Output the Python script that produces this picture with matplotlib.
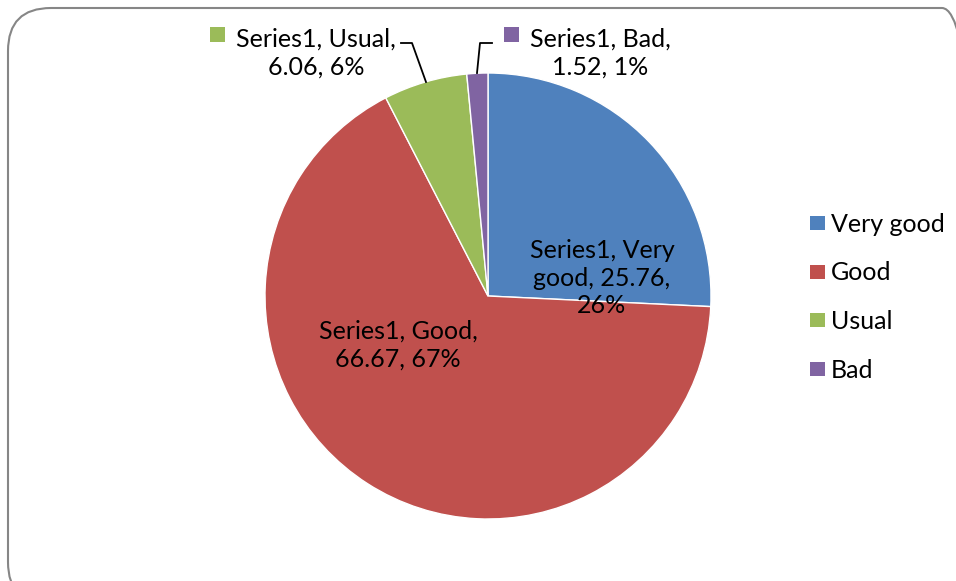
import matplotlib
matplotlib.use("Agg")
import matplotlib.pyplot as plt
from matplotlib.patches import FancyBboxPatch, Rectangle
from matplotlib.lines import Line2D

categories = ["Very good", "Good", "Usual", "Bad"]
values = [25.76, 66.67, 6.06, 1.52]
percents = ["26%", "67%", "6%", "1%"]
series_name = "Series1"
colors = ["#4F81BD", "#C0504D", "#9BBB59", "#8064A2"]

W, H = 956, 581
fig = plt.figure(figsize=(W / 100, H / 100), dpi=100)
plt.rcParams['font.family'] = ['Lato', 'DejaVu Sans']
FS = 18


def fx(x):
    return x / W


def fy(y):
    return 1 - y / H


# border
border = FancyBboxPatch((fx(8), fy(605)), fx(985 - 8), (605 - 8) / H,
                        boxstyle="round,pad=0,rounding_size=0.045",
                        transform=fig.transFigure, fill=False,
                        edgecolor="#868686", linewidth=1.5,
                        mutation_aspect=W / H)
fig.patches.append(border)

cx, cy, r = 488, 296, 223
ax = fig.add_axes([fx(cx - r), fy(cy + r), 2 * r / W, 2 * r / H])
ax.pie(values, colors=colors, startangle=90, counterclock=False, radius=1,
       wedgeprops=dict(edgecolor="white", linewidth=1))
ax.set_xlim(-1, 1)
ax.set_ylim(-1, 1)
ax.set_axis_off()


def lab(i):
    return f"{series_name}, {categories[i]},\n{values[i]:.2f}, {percents[i]}"


# inside labels
fig.text(fx(602), fy(278), f"{series_name}, Very\ngood, {values[0]:.2f},\n{percents[0]}",
         ha="center", va="center", fontsize=FS, linespacing=1.25)
fig.text(fx(398), fy(345), lab(1), ha="center", va="center",
         fontsize=FS, linespacing=1.25)

# outside labels with legend keys
for i, (tx, mx) in [(2, (316, 210)), (3, (600, 504))]:
    fig.text(fx(tx), fy(53), lab(i), ha="center", va="center",
             fontsize=FS, linespacing=1.25)
    fig.patches.append(Rectangle((fx(mx), fy(42)), 15 / W, 15 / H,
                                 transform=fig.transFigure,
                                 facecolor=colors[i], edgecolor="none"))

# leader lines
fig.lines.append(Line2D([fx(401), fx(412), fx(426)], [fy(43), fy(43), fy(82)],
                        transform=fig.transFigure, color="black", lw=1.3))
fig.lines.append(Line2D([fx(492), fx(480), fx(477)], [fy(43), fy(43), fy(73)],
                        transform=fig.transFigure, color="black", lw=1.3))

# legend
for k, (cat, col) in enumerate(zip(categories, colors)):
    y = 223 + k * 48.7
    fig.patches.append(Rectangle((fx(810), fy(y + 7)), 15 / W, 14 / H,
                                 transform=fig.transFigure,
                                 facecolor=col, edgecolor="none"))
    fig.text(fx(831), fy(y + 1), cat, ha="left", va="center", fontsize=FS)

fig.savefig("out.png", dpi=100)
